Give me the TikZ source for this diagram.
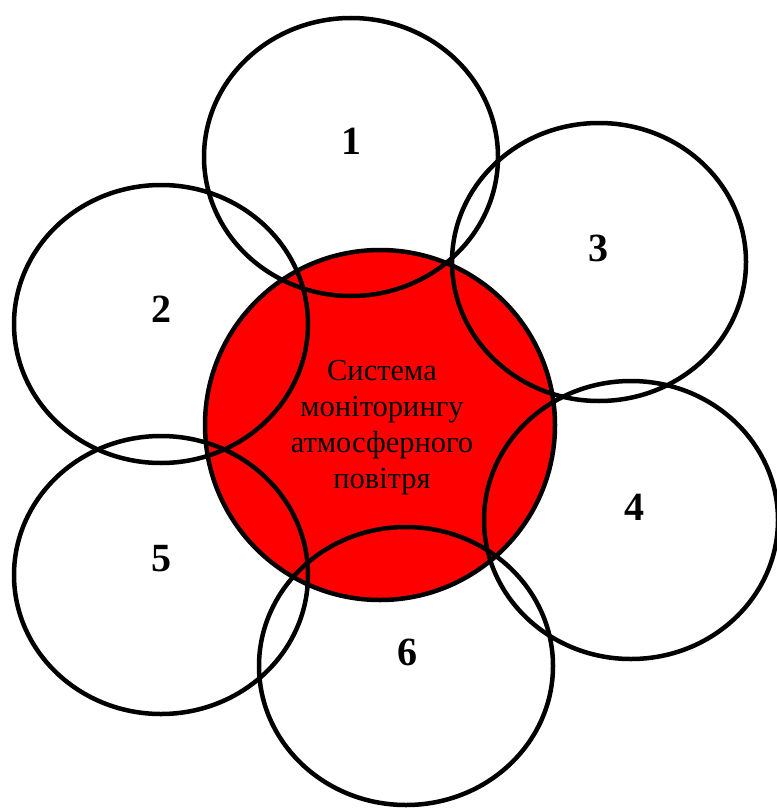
\documentclass[tikz,border=0pt]{standalone}
\usepackage{fontspec}
\setmainfont{Liberation Serif}
\usepackage{tikz}
\usetikzlibrary{shapes.geometric}

\tikzset{
  core/.style={draw, circle, fill=red, line width=4.5pt, inner sep=0pt, minimum size=350pt},
  petal/.style={draw, ellipse, line width=4.5pt, inner sep=0pt, minimum width=294pt, minimum height=278pt},
  petalnum/.style={font=\fontsize{40}{40}\selectfont\bfseries, inner sep=0pt},
}

\begin{document}
\begin{tikzpicture}[x=1pt, y=-1pt]
    \useasboundingbox (0,0) rectangle (776,808);
    \node[core] (core) at (380,425) {};
    \node[align=center, font=\fontsize{30.5}{36}\selectfont] (title) at (382,428)
      {Система\\моніторингу\\атмосферного\\повітря};

    \node[petal] (p1) at (351,157) {};
    \node[petal] (p2) at (161,324) {};
    \node[petal] (p3) at (599,262) {};
    \node[petal] (p4) at (631,520) {};
    \node[petal] (p5) at (161,575) {};
    \node[petal] (p6) at (406,666) {};

    \node[petalnum] (n1) at (351,141) {1};
    \node[petalnum] (n2) at (161,309) {2};
    \node[petalnum] (n3) at (598,248) {3};
    \node[petalnum] (n4) at (634,507) {4};
    \node[petalnum] (n5) at (161,559) {5};
    \node[petalnum] (n6) at (407,652) {6};
\end{tikzpicture}
\end{document}
